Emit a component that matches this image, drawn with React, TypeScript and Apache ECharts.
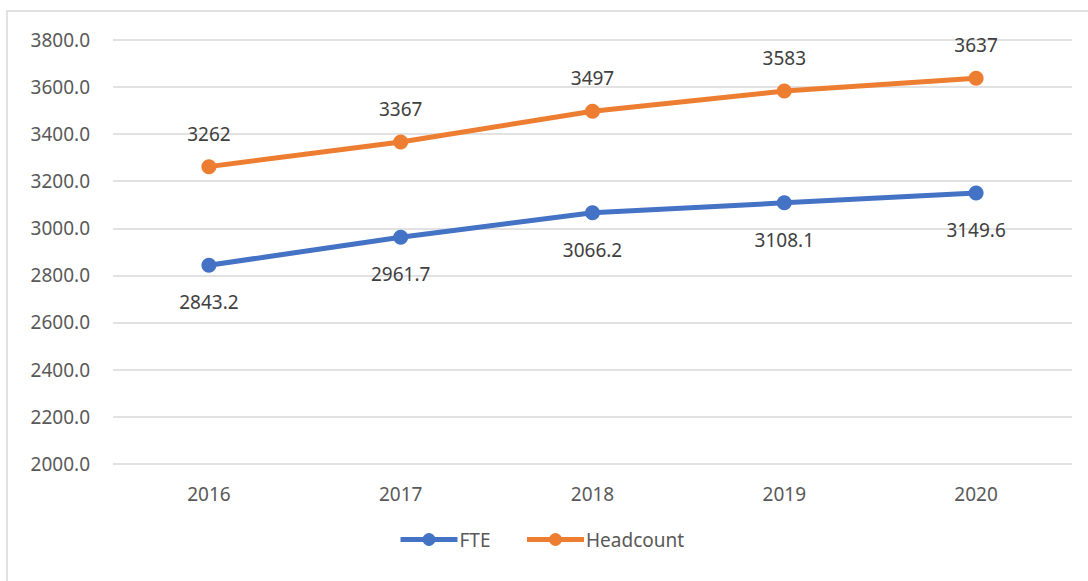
import React, { useEffect, useRef } from "react";
import * as echarts from "echarts";

const categories = ["2016", "2017", "2018", "2019", "2020"];
const fteValues = [2843.2, 2961.7, 3066.2, 3108.1, 3149.6];
const headcountValues = [3262, 3367, 3497, 3583, 3637];
const yMin = 2000;
const yMax = 3800;
const yStep = 200;

const FONT = "'Noto Sans', 'Open Sans', sans-serif";

export default function App() {
  const ref = useRef<HTMLDivElement>(null);
  useEffect(() => {
    if (!ref.current) return;
    const chart = echarts.init(ref.current, undefined, { renderer: "svg" });
    chart.setOption({
      animation: false,
      backgroundColor: "#ffffff",
      graphic: [
        {
          type: "rect",
          shape: { x: 7, y: 11, width: 1100, height: 600 },
          style: { fill: "none", stroke: "#d9d9d9", lineWidth: 1.5 },
          silent: true,
          z: -1,
        },
      ],
      grid: { left: 113, right: 16, top: 40, bottom: 117.3, containLabel: false },
      xAxis: {
        type: "category",
        data: categories,
        boundaryGap: true,
        axisLine: { show: false },
        axisTick: { show: false },
        axisLabel: { color: "#595959", fontSize: 19, fontFamily: FONT, margin: 21 },
        splitLine: { show: false },
      },
      yAxis: {
        type: "value",
        min: yMin,
        max: yMax,
        interval: yStep,
        axisLine: { show: false },
        axisTick: { show: false },
        axisLabel: {
          color: "#595959",
          fontSize: 19,
          fontFamily: FONT,
          margin: 23,
          formatter: (v: number) => v.toFixed(1),
        },
        splitLine: { lineStyle: { color: "#d9d9d9", width: 1.5 } },
      },
      legend: {
        left: 393,
        top: 525,
        itemWidth: 57,
        itemHeight: 16,
        itemGap: 34,
        lineStyle: { width: 5 },
        textStyle: { color: "#595959", fontSize: 19, fontFamily: FONT, padding: [0, 0, 0, -3] },
        data: ["FTE", "Headcount"],
      },
      series: [
        {
          name: "FTE",
          type: "line",
          data: fteValues,
          symbol: "circle",
          symbolSize: 15,
          lineStyle: { color: "#4472C4", width: 5 },
          itemStyle: { color: "#4472C4" },
          label: {
            show: true,
            position: "bottom",
            distance: 20,
            color: "#404040",
            fontSize: 19,
            fontFamily: FONT,
            formatter: (p: any) => p.value.toFixed(1),
          },
        },
        {
          name: "Headcount",
          type: "line",
          data: headcountValues,
          symbol: "circle",
          symbolSize: 15,
          lineStyle: { color: "#ED7D31", width: 5 },
          itemStyle: { color: "#ED7D31" },
          label: {
            show: true,
            position: "top",
            distance: 16,
            color: "#404040",
            fontSize: 19,
            fontFamily: FONT,
          },
        },
      ],
    });
    return () => chart.dispose();
  }, []);
  return (
    <div
      ref={ref}
      style={{ position: "fixed", left: 0, top: 0, width: 1088, height: 581 }}
    />
  );
}
